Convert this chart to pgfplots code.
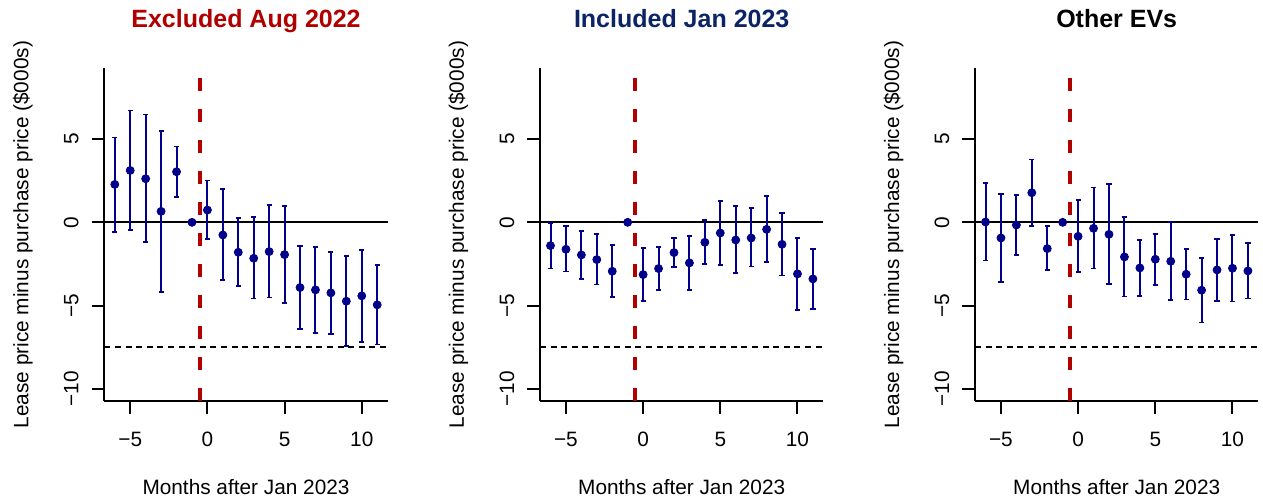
\documentclass[border=0pt]{standalone}
\usepackage{fontspec}
\setmainfont{Liberation Sans}
\usepackage{pgfplots}
\usepackage{pgfplotstable}
\pgfplotsset{compat=1.18}
\definecolor{ptblue}{RGB}{0,0,139}
\definecolor{redline}{RGB}{176,0,0}
\definecolor{titleblue}{RGB}{12,36,102}

\pgfplotstableread{
x y lo hi
-6 2.28 -0.56 5.10
-5 3.12 -0.46 6.72
-4 2.62 -1.20 6.48
-3 0.66 -4.18 5.50
-2 3.04 1.54 4.56
0 0.74 -1.02 2.52
1 -0.76 -3.48 2.02
2 -1.80 -3.82 0.24
3 -2.16 -4.58 0.30
4 -1.76 -4.52 1.02
5 -1.94 -4.86 0.98
6 -3.92 -6.42 -1.42
7 -4.06 -6.66 -1.48
8 -4.24 -6.72 -1.78
9 -4.74 -7.42 -2.04
10 -4.42 -7.20 -1.64
11 -4.96 -7.34 -2.58
}\dataA
\pgfplotstableread{
x y lo hi
-6 -1.40 -2.78 -0.04
-5 -1.62 -2.96 -0.24
-4 -1.96 -3.40 -0.54
-3 -2.24 -3.74 -0.72
-2 -2.94 -4.50 -1.38
0 -3.14 -4.74 -1.56
1 -2.78 -4.06 -1.48
2 -1.82 -2.70 -0.94
3 -2.44 -4.06 -0.84
4 -1.20 -2.50 0.12
5 -0.64 -2.58 1.26
6 -1.06 -3.04 0.98
7 -0.94 -2.66 0.84
8 -0.42 -2.38 1.58
9 -1.32 -3.20 0.56
10 -3.10 -5.26 -0.94
11 -3.40 -5.20 -1.62
}\dataB
\pgfplotstableread{
x y lo hi
-6 0.02 -2.30 2.36
-5 -0.94 -3.60 1.72
-4 -0.16 -1.96 1.64
-3 1.78 -0.20 3.78
-2 -1.58 -2.88 -0.24
0 -0.84 -3.00 1.32
1 -0.36 -2.78 2.10
2 -0.72 -3.72 2.30
3 -2.08 -4.46 0.32
4 -2.74 -4.44 -1.04
5 -2.22 -3.76 -0.70
6 -2.34 -4.68 0.04
7 -3.12 -4.64 -1.58
8 -4.08 -6.02 -2.14
9 -2.86 -4.74 -0.98
10 -2.76 -4.76 -0.78
11 -2.92 -4.58 -1.24
}\dataC

\pgfplotsset{
  panel/.style={
    scale only axis,
    width=141.7pt, height=166.35pt,
    anchor=south west,
    xmin=-6.68, xmax=11.68,
    ymin=-10.74, ymax=9.26,
    axis lines=left,
    axis line style={-, line width=1pt},
    every tick/.style={black, line width=1pt},
    tick align=outside,
    major tick length=6.35pt,
    xtick={-5,0,5,10},
    xticklabels={−5,0,5,10},
    ytick={-10,-5,0,5},
    yticklabels={−10,−5,0,5},
    tick label style={font=\fontsize{10.4}{12}\selectfont},
    yticklabel style={rotate=90, anchor=south},
    xticklabel shift=5.8pt,
    yticklabel shift=3pt,
    xlabel={Months after Jan 2023},
    ylabel={Lease price minus purchase price (\$000s)},
    label style={font=\fontsize{10.4}{12}\selectfont},
    xlabel style={at={(axis description cs:0.5,-0.2825)}, anchor=base},
    ylabel style={at={(axis description cs:-0.2682,0.5)}, anchor=base},
    every axis title shift=0pt,
    title style={at={(axis description cs:0.5,1.1241)}, anchor=base, yshift=0pt, font=\fontsize{12.5}{14}\selectfont\bfseries},
    clip=false,
  },
}

\newcommand{\panelbody}[1]{%
  \addplot[black, line width=0.9pt] coordinates {(-6.68,0) (11.68,0)};
  \addplot[black, line width=0.75pt, dash pattern=on 3pt off 2.3pt] coordinates {(-6.68,-7.5) (11.68,-7.5)};
  \addplot[redline, line width=2pt, dash pattern=on 6.5pt off 9pt] coordinates {(-0.5,-10.74) (-0.5,9.26)};
  \addplot[ptblue, only marks, mark=*, mark size=2pt,
    error bars/.cd, y dir=both, y explicit,
    error bar style={line width=1pt, ptblue},
    error mark options={rotate=90, line width=0.9pt, mark size=1.3pt, ptblue}]
    table[x=x, y=y, y error plus expr=\thisrow{hi}-\thisrow{y}, y error minus expr=\thisrow{y}-\thisrow{lo}] {#1};
  \addplot[ptblue, only marks, mark=*, mark size=2pt] coordinates {(-1,0)};
}

\begin{document}
\begin{tikzpicture}
\path[use as bounding box] (0,0) rectangle (631.5pt,251pt);
\begin{axis}[panel, at={(52.15pt,50.5pt)}, title={\color{redline}Excluded Aug 2022}]
\panelbody{\dataA}
\end{axis}
\begin{axis}[panel, at={(270pt,50.5pt)}, title={\color{titleblue}Included Jan 2023}]
\panelbody{\dataB}
\end{axis}
\begin{axis}[panel, at={(487.5pt,50.5pt)}, title={Other EVs}]
\panelbody{\dataC}
\end{axis}
\end{tikzpicture}
\end{document}
